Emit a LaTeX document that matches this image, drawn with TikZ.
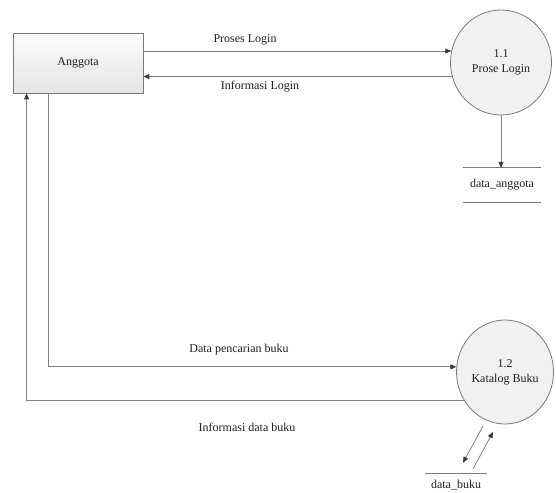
\documentclass[tikz,border=0pt]{standalone}
\usepackage{fontspec}
\setmainfont{Liberation Serif}
\usetikzlibrary{arrows.meta,shapes.geometric,calc}

\definecolor{edgegray}{HTML}{7A7A7A}
\definecolor{linegray}{HTML}{808080}
\definecolor{tipgray}{HTML}{3A3A3A}
\definecolor{txt}{HTML}{202020}
\definecolor{boxtop}{HTML}{FCFCFC}
\definecolor{boxbot}{HTML}{E4E4E4}
\definecolor{procfill}{HTML}{F1F1F1}

\begin{document}
\begin{tikzpicture}[x=1pt,y=-1pt,
  font=\fontsize{12}{14}\selectfont, text=txt,
  entity/.style={draw=edgegray, line width=0.8pt, top color=boxtop, bottom color=boxbot,
    minimum width=130pt, minimum height=60pt, inner sep=0pt},
  proc/.style={ellipse, draw=edgegray, line width=0.8pt, fill=procfill,
    align=center, inner sep=0pt},
  store/.style={inner sep=0pt, minimum width=78pt},
  storeline/.style={draw=edgegray, line width=0.8pt},
  link/.style={draw=linegray, line width=0.8pt},
  flow/.style={link, -{Triangle[length=6pt,width=5pt,color=tipgray]}},
  lbl/.style={inner sep=0pt}
]
\useasboundingbox (0,0) rectangle (556,492);

% external entity
\node[entity] (ang) at (78,63) {Anggota};

% processes
\node[proc, minimum width=101pt, minimum height=105pt] (p1) at (501,62.5) {1.1\\[1pt]Prose Login};
\node[proc, minimum width=97pt, minimum height=104pt] (p2) at (505,372) {1.2\\[1pt]Katalog Buku};

% data stores
\node[store, minimum height=34pt] (ds1) at (502,185) {data\_anggota};
\draw[storeline] (ds1.north west) -- (ds1.north east);
\draw[storeline] (ds1.south west) -- (ds1.south east);

\node[store, minimum width=62pt, minimum height=22pt] (ds2) at (456,485) {data\_buku};
\draw[storeline] (ds2.north west) -- (ds2.north east);

% login flows
\draw[flow] (ang.east |- p1.167) -- (p1.167);
\draw[flow] (p1.196) -- (ang.east |- p1.196);
\node[lbl] (l1) at (245,40) {Proses Login};
\node[lbl] (l2) at (260,87) {Informasi Login};

\draw[flow] (p1.south) -- (p1.south |- ds1.north);

% catalogue flows
\coordinate (down) at ($(ang.south west)+(36,0)$);
\coordinate (up) at ($(ang.south west)+(14,0)$);
\draw[flow] (down) |- (p2.174);
\draw[flow] (p2.214) -| (up);
\node[lbl] (l3) at (239,350) {Data pencarian buku};
\node[lbl] (l4) at (247,427) {Informasi data buku};

% catalogue <-> data_buku
\draw[flow] ($(p2.center)+(-22,54)$) -- ($(ds2.north)+(7,-11)$);
\draw[flow] ($(ds2.north)+(17,-5)$) -- ($(p2.center)+(-12,60)$);
\end{tikzpicture}
\end{document}
